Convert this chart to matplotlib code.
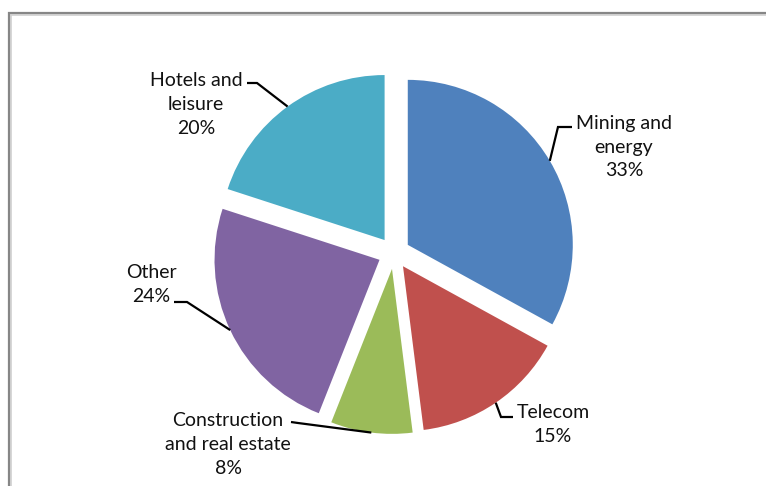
import numpy as np
import matplotlib
matplotlib.use("Agg")
import matplotlib.pyplot as plt

# ---- data ----
categories = ["Mining and\nenergy", "Telecom", "Construction\nand real estate", "Other", "Hotels and\nleisure"]
shares = [33, 15, 8, 24, 20]
colors = ["#4F81BD", "#C0504D", "#9BBB59", "#8064A2", "#4BACC6"]

# ---- layout (pixel coordinates, y measured from top) ----
W, H = 766, 486
center_px = (394, 253)
radius_px = 165
explode_px = 16
label_pos = [(624, 147), (553, 424), (228, 444), (151, 284), (196, 104)]
# elbow points for leader lines: (elbow, end) from the arc midpoint
leader_pts = [
    [(558, 127), (572, 127)],
    [(501, 417), (513, 417)],
    [(298, 423), (291, 422)],
    [(187, 302), (174, 302)],
    [(257, 83), (247, 83)],
]

plt.rcParams['font.family'] = ['Lato', 'DejaVu Sans']

fig = plt.figure(figsize=(W / 100, H / 100), dpi=100)
ax = fig.add_axes([0, 0, 1, 1])

def Y(y):
    return H - y

wedges, _ = ax.pie(shares, colors=colors, startangle=90, counterclock=False,
                   explode=[explode_px] * len(shares),
                   center=(center_px[0], Y(center_px[1])), radius=radius_px,
                   wedgeprops=dict(linewidth=0))

for w, lab, share, pos, pts in zip(wedges, categories, shares, label_pos, leader_pts):
    mid = np.deg2rad((w.theta1 + w.theta2) / 2)
    cx, cy = w.center
    ax_, ay_ = cx + w.r * np.cos(mid), cy + w.r * np.sin(mid)
    xs = [ax_] + [p[0] for p in pts]
    ys = [ay_] + [Y(p[1]) for p in pts]
    ax.plot(xs, ys, color="black", lw=1.6, solid_capstyle="butt", solid_joinstyle="miter")
    ax.text(pos[0], Y(pos[1]), f"{lab}\n{share}%", ha="center", va="center",
            multialignment="center", fontsize=14, linespacing=1.5, color="#111111")

ax.set_xlim(0, W)
ax.set_ylim(0, H)
ax.set_aspect("equal")
ax.axis("off")

# frame: only top and left edges visible (it continues past right/bottom)
ax.plot([11, 11, W + 10], [Y(H + 10), Y(15), Y(15)], color="#d0d0d0", lw=1.2,
        solid_joinstyle="miter", zorder=0, clip_on=False)
ax.plot([9, 9, W + 10], [Y(H + 10), Y(13), Y(13)], color="#868686", lw=1.6,
        solid_joinstyle="miter", zorder=0, clip_on=False)

fig.savefig("out.png", dpi=100)
